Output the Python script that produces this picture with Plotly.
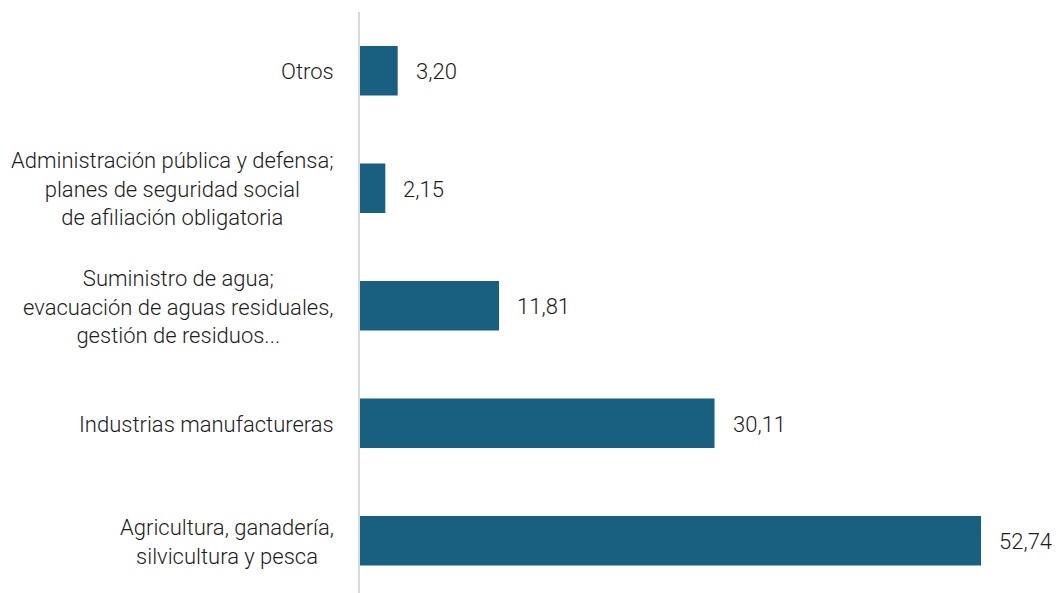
import plotly.graph_objects as go

# Sectores (de abajo hacia arriba) y su participación (%)
sectores = [
    "Agricultura, ganadería,<br>silvicultura y pesca",
    "Industrias manufactureras",
    "Suministro de agua;<br>evacuación de aguas residuales,<br>gestión de residuos...",
    "Administración pública y defensa;<br>planes de seguridad social<br>de afiliación obligatoria",
    "Otros",
]
valores = [52.74, 30.11, 11.81, 2.15, 3.20]
etiquetas = [f"{v:.2f}".replace(".", ",") for v in valores]

BAR_COLOR = "#185f80"
TEXT_COLOR = "#1c1c1c"
FONT = "Roboto, 'Noto Sans', sans-serif"

fig = go.Figure(
    go.Bar(
        x=valores,
        y=sectores,
        orientation="h",
        marker=dict(color=BAR_COLOR, line=dict(width=0)),
        width=0.42,
        hoverinfo="skip",
    )
)

# Etiquetas de valor al final de cada barra
for s, v, t in zip(sectores, valores, etiquetas):
    fig.add_annotation(
        x=v, y=s, xref="x", yref="y", text=t, showarrow=False,
        xanchor="left", yanchor="middle", xshift=16, yshift=-1,
        font=dict(family=FONT, size=22, color=TEXT_COLOR, weight=300),
    )

# Nombres de las categorías, centrados línea a línea
for s in sectores:
    fig.add_annotation(
        x=0, y=s, xref="paper", yref="y", text=s, showarrow=False,
        xanchor="right", yanchor="middle", align="center", xshift=-24, yshift=-1,
        font=dict(family=FONT, size=22, color=TEXT_COLOR, weight=300),
    )

fig.update_layout(
    width=1058, height=593,
    margin=dict(l=360, r=0, t=12, b=0),
    paper_bgcolor="white", plot_bgcolor="white",
    showlegend=False,
    xaxis=dict(range=[0, 59.28], visible=False, fixedrange=True),
    yaxis=dict(
        type="category", range=[-0.445, 4.5],
        showticklabels=False, ticks="", showgrid=False, zeroline=False,
        showline=True, linecolor="#d9d9d9", linewidth=2,
    ),
)

fig.write_html("out.html")
